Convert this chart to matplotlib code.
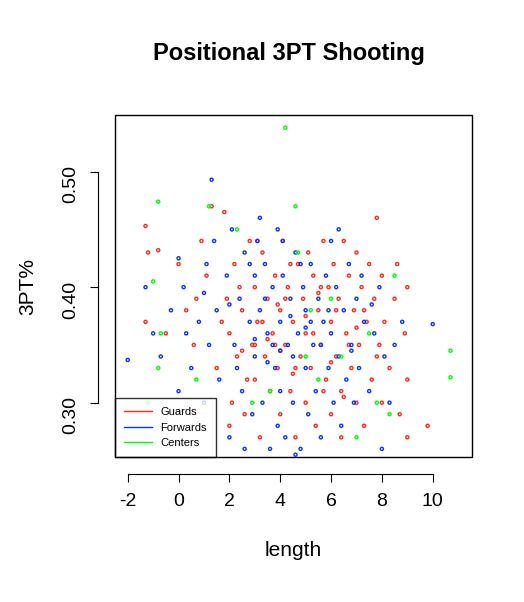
import matplotlib
matplotlib.use("Agg")
import matplotlib.pyplot as plt
from matplotlib.lines import Line2D

plt.rcParams['font.family'] = ['Liberation Sans', 'DejaVu Sans']
plt.rcParams['axes.unicode_minus'] = False

# Guards (length, 3PT%)
guards_x = [-1.3, -1.2, -1.3, -0.8, -0.5, 0.0, 0.3, 0.6, 0.9, 1.1, 1.3, 1.5, 1.8, 1.9, 2.0, 2.1, 2.2, 2.3, 2.5, 2.6,
            2.8, 2.9, 3.0, 3.0, 3.1, 3.2, 3.3, 3.4, 3.5, 3.6, 3.7, 3.8, 3.9, 4.0, 4.0, 4.1, 4.2, 4.3, 4.4, 4.5,
            4.6, 4.7, 4.8, 4.9, 5.0, 5.0, 5.1, 5.2, 5.3, 5.4, 5.5, 5.6, 5.7, 5.8, 5.9, 6.0, 6.0, 6.1, 6.2, 6.3,
            6.4, 6.5, 6.6, 6.7, 6.8, 6.9, 7.0, 7.0, 7.1, 7.2, 7.3, 7.4, 7.5, 7.6, 7.7, 7.8, 7.9, 8.0, 8.0, 8.1,
            8.3, 8.5, 8.7, 8.9, 9.0, 9.0, 9.0, 9.8, 2.4, 3.3, 4.2, 5.3, 6.2, 2.7, 3.8, 4.6, 5.7, 6.7, 7.3, 1.7,
            0.7, 4.4, 5.6, 3.1, 7.8, 8.6, 6.4, 2.0, 4.9, 3.0, 4.0, 5.0, 6.0, 7.0, 3.5, 4.5, 5.5, 6.5, 2.5, 3.9]
guards_y = [0.453, 0.430, 0.370, 0.432, 0.360, 0.420, 0.380, 0.350, 0.440, 0.410, 0.470, 0.330, 0.465, 0.390, 0.360, 0.300, 0.420, 0.340, 0.380, 0.290,
            0.440, 0.350, 0.400, 0.320, 0.370, 0.270, 0.430, 0.340, 0.390, 0.310, 0.360, 0.410, 0.330, 0.380, 0.290, 0.440, 0.350, 0.400, 0.310, 0.370,
            0.270, 0.420, 0.340, 0.390, 0.360, 0.300, 0.430, 0.330, 0.410, 0.280, 0.380, 0.350, 0.440, 0.320, 0.400, 0.370, 0.290, 0.420, 0.340, 0.390,
            0.310, 0.440, 0.360, 0.410, 0.330, 0.380, 0.430, 0.300, 0.350, 0.400, 0.280, 0.370, 0.420, 0.320, 0.390, 0.460, 0.350, 0.300, 0.410, 0.370,
            0.330, 0.390, 0.290, 0.360, 0.400, 0.270, 0.320, 0.280, 0.400, 0.370, 0.390, 0.360, 0.380, 0.320, 0.350, 0.330, 0.310, 0.350, 0.380, 0.370,
            0.390, 0.420, 0.400, 0.440, 0.340, 0.420, 0.270, 0.280, 0.250, 0.350, 0.345, 0.375, 0.335, 0.365, 0.355, 0.325, 0.395, 0.305, 0.345, 0.385]

forwards_x = [-2.0, -1.3, -1.0, -0.7, -0.3, 0.0, 0.0, 0.2, 0.5, 0.8, 1.0, 1.1, 1.3, 1.2, 1.5, 1.6, 1.9, 2.0, 2.1, 2.2,
              2.4, 2.5, 2.6, 2.8, 2.9, 3.0, 3.0, 3.1, 3.2, 3.3, 3.4, 3.5, 3.6, 3.7, 3.8, 3.9, 4.0, 4.0, 4.1, 4.2,
              4.3, 4.4, 4.5, 4.6, 4.7, 4.8, 4.9, 5.0, 5.0, 5.1, 5.2, 5.3, 5.4, 5.5, 5.6, 5.7, 5.8, 5.9, 6.0, 6.1,
              6.2, 6.3, 6.4, 6.5, 6.6, 6.7, 6.8, 6.9, 7.0, 7.1, 7.3, 7.5, 7.7, 7.9, 8.0, 8.1, 8.3, 8.5, 8.8, 10.0,
              2.3, 3.4, 4.5, 5.6, 2.8, 3.9, 4.8, 5.9, 1.4, 0.3, 3.2, 4.1, 6.0, 2.6, 4.6, 7.2, 3.7, 5.2, 6.3, 3.0,
              4.0, 5.0, 3.5, 4.4, 2.0, 1.0, 6.8, 7.6]
forwards_y = [0.337, 0.400, 0.360, 0.340, 0.380, 0.310, 0.425, 0.400, 0.330, 0.370, 0.300, 0.420, 0.493, 0.350, 0.380, 0.320, 0.410, 0.270, 0.450, 0.350,
              0.390, 0.310, 0.430, 0.370, 0.290, 0.410, 0.340, 0.440, 0.380, 0.300, 0.420, 0.360, 0.260, 0.400, 0.330, 0.450, 0.370, 0.310, 0.410, 0.270,
              0.350, 0.390, 0.300, 0.430, 0.360, 0.260, 0.400, 0.330, 0.380, 0.290, 0.420, 0.350, 0.310, 0.390, 0.270, 0.370, 0.410, 0.330, 0.360, 0.300,
              0.400, 0.340, 0.280, 0.380, 0.320, 0.420, 0.350, 0.300, 0.390, 0.330, 0.370, 0.310, 0.360, 0.400, 0.260, 0.340, 0.300, 0.350, 0.370, 0.368,
              0.330, 0.390, 0.340, 0.350, 0.420, 0.280, 0.420, 0.380, 0.440, 0.360, 0.460, 0.440, 0.440, 0.260, 0.255, 0.410, 0.350, 0.370, 0.450, 0.355,
              0.345, 0.365, 0.335, 0.375, 0.385, 0.395, 0.345, 0.385]

centers_x = [-0.8, -1.0, -0.7, -0.8, -1.2, 0.7, 2.3, 1.2, 4.2, 4.6, 4.7, 5.0, 5.2, 5.5, 6.0, 6.4, 7.0, 7.5, 7.8, 8.3,
             8.5, 10.7, 10.7, 3.6, 2.9]
centers_y = [0.474, 0.405, 0.360, 0.330, 0.300, 0.320, 0.450, 0.470, 0.538, 0.470, 0.430, 0.340, 0.380, 0.320, 0.390, 0.340, 0.270, 0.360, 0.300, 0.290,
             0.410, 0.345, 0.322, 0.310, 0.300]

series = [("Guards", guards_x, guards_y, "#FF2A1A"),
          ("Forwards", forwards_x, forwards_y, "#0A33FF"),
          ("Centers", centers_x, centers_y, "#00FF00")]

fig = plt.figure(figsize=(5.24, 6.02), dpi=100)
ax = fig.add_axes([0.2195, 0.2409, 0.681, 0.568])

for name, xs, ys, col in series:
    ax.scatter(xs, ys, s=5, facecolors="none", edgecolors=col, linewidths=1.0)

ax.set_xlim(-2.5, 11.54)
ax.set_ylim(0.253, 0.549)
ax.set_xticks([-2, 0, 2, 4, 6, 8, 10])
ax.set_yticks([0.30, 0.40, 0.50])
ax.set_yticklabels(["0.30", "0.40", "0.50"])
ax.tick_params(labelsize=14, length=6, pad=8)
ax.tick_params(axis="y", labelrotation=90)
for lab in ax.get_yticklabels():
    lab.set_va("center")

# R-style detached axes
ax.spines["bottom"].set_position(("outward", 12))
ax.spines["left"].set_position(("outward", 12))
ax.spines["bottom"].set_bounds(-2, 10)
ax.spines["left"].set_bounds(0.30, 0.50)
ax.spines["top"].set_visible(False)
ax.spines["right"].set_visible(False)
fig.add_artist(plt.Rectangle((0.2195, 0.2409), 0.681, 0.568, fill=False, lw=1, transform=fig.transFigure))

ax.set_xlabel("length", fontsize=15, labelpad=22)
ax.set_ylabel("3PT%", fontsize=15, labelpad=18)
fig.text(0.552, 0.9, "Positional 3PT Shooting", fontsize=17, fontweight="bold", ha="center")

handles = [Line2D([0], [0], color=c, lw=1) for _, _, _, c in series]
leg = ax.legend(handles, [s[0] for s in series], loc="lower left", fontsize=8,
                frameon=True, fancybox=False, edgecolor="black", borderaxespad=0,
                handlelength=2.5, borderpad=0.8)
leg.get_frame().set_linewidth(1)

fig.savefig("out.png", dpi=100)
